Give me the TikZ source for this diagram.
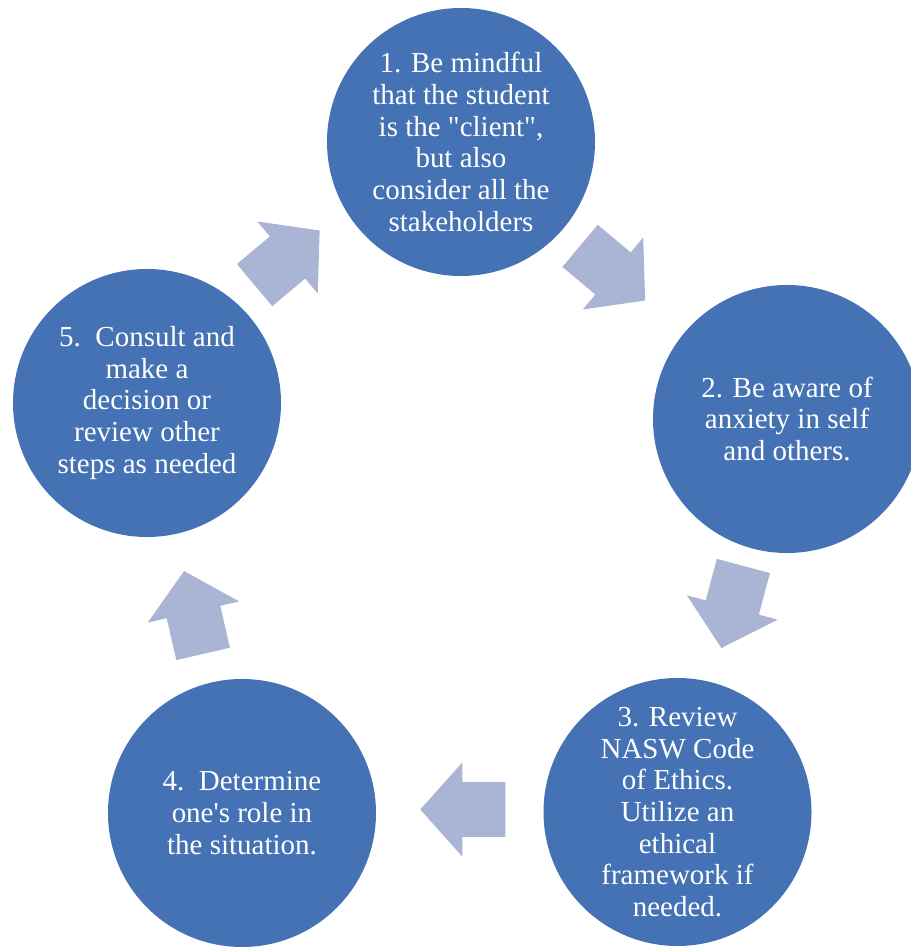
\documentclass[tikz,border=0pt]{standalone}
\usepackage{fontspec}
\setmainfont{Liberation Serif}
\usetikzlibrary{calc}
\definecolor{circblue}{RGB}{68,114,180}
\definecolor{arrowblue}{RGB}{170,180,212}
\tikzset{
    stepcircle/.style={circle, fill=circblue, text=white, minimum size=5.36cm,
        inner sep=0pt, align=center, font=\rmfamily\fontsize{16.5}{18}\selectfont},
    pics/cyclearrow/.style={
        code={
            \fill[arrowblue] (-0.86,-0.55) -- (0,-0.55) -- (0,-0.94) -- (0.84,0)
                -- (0,0.94) -- (0,0.55) -- (-0.86,0.55) -- cycle;
        }
    }
}
\begin{document}
\begin{tikzpicture}
                      \useasboundingbox (0,0) rectangle (18.22,18.94);
                      \node[stepcircle] (c1) at (9.22,16.10) {1. Be mindful\\that the student\\is the \textquotedbl client\textquotedbl,\\but also\\consider all the\\stakeholders};
                      \node[stepcircle] (c2) at (15.74,10.56) {2. Be aware of\\anxiety in self\\and others.};
                      \node[stepcircle] (c3) at (13.55,2.70) {3. Review\\NASW Code\\of Ethics.\\Utilize an\\ethical\\framework if\\needed.};
                      \node[stepcircle] (c4) at (4.84,2.68) {4.\ \ Determine\\one\textquotesingle s role in\\the situation.};
                      \node[stepcircle] (c5) at (2.94,10.88) {5.\ \ Consult and\\make a\\decision or\\review other\\steps as needed};

                      \pic[shift={($(c1)!0.5!(c2)+(-0.22,0.14)$)},rotate=-40]{cyclearrow};
                      \pic[shift={($(c2)!0.5!(c3)+(0,0.16)$)},rotate=-105]{cyclearrow};
                      \pic[shift={($(c3)!0.5!(c4)+(0.05,0.06)$)},rotate=180]{cyclearrow};
                      \pic[shift={($(c4)!0.5!(c5)+(-0.02,-0.08)$)},rotate=103]{cyclearrow};
                      \pic[shift={($(c5)!0.5!(c1)+(-0.33,0.30)$)},rotate=40]{cyclearrow};
                  \end{tikzpicture}
\end{document}
